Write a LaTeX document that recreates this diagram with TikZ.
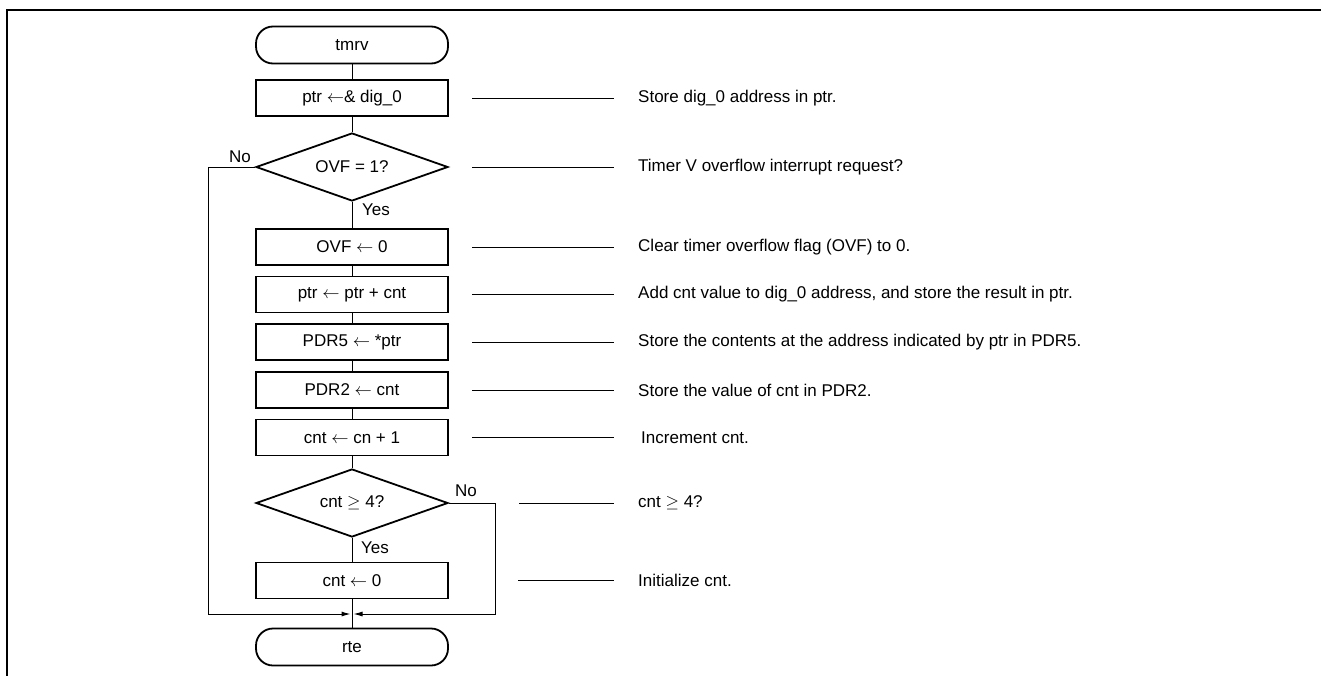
\documentclass[tikz,border=0pt]{standalone}
\usepackage{fontspec}
\setmainfont{Liberation Sans}
\usetikzlibrary{shapes.geometric,arrows.meta}
\begin{document}
\begin{tikzpicture}[x=1pt,y=-1pt,
  every node/.style={font=\fontsize{17}{19}\selectfont},
  box/.style={draw,line width=1.8pt,minimum width=192pt,minimum height=36pt,inner sep=0pt},
  term/.style={box,rounded corners=17pt,minimum height=37pt},
  dec/.style={draw,diamond,line width=1.8pt,minimum width=192pt,minimum height=68pt,inner sep=0pt},
  flow/.style={line width=1pt},
  lead/.style={line width=1pt},
  note/.style={anchor=west,inner sep=0pt},
  lbl/.style={inner sep=0pt},
  arr/.style={flow,-{Latex[length=9pt,width=5pt]},shorten >=1.5pt}
]
\useasboundingbox (0,0) rectangle (1321,675);
\draw[line width=2pt] (7,676) -- (7,10) -- (1322,10);

\node[term] (start) at (352,45) {tmrv};
\node[box] (b1) at (352,98) {ptr $\leftarrow$\& dig\_0};
\node[dec,label={[lbl]center:OVF = 1?}] (d1) at (352,167) {};
\node[box] (b2) at (352,247) {OVF $\leftarrow$ 0};
\node[box] (b3) at (352,294.5) {ptr $\leftarrow$ ptr + cnt};
\node[box] (b4) at (352,342) {PDR5 $\leftarrow$ *ptr};
\node[box] (b5) at (352,390) {PDR2 $\leftarrow$ cnt};
\node[box] (b6) at (352,437.5) {cnt $\leftarrow$ cn + 1};
\node[dec,label={[lbl]center:cnt $\geq$ 4?}] (d2) at (352,503) {};
\node[box] (b7) at (352,580.5) {cnt $\leftarrow$ 0};
\node[term] (stop) at (352,647) {rte};

\coordinate (m) at (352,614);
\coordinate (lc) at (208,614);
\coordinate (rc) at (495,614);

\draw[flow] (start) -- (b1);
\draw[flow] (b1) -- (d1);
\draw[flow] (d1) -- (b2);
\draw[flow] (b2) -- (b3);
\draw[flow] (b3) -- (b4);
\draw[flow] (b4) -- (b5);
\draw[flow] (b5) -- (b6);
\draw[flow] (b6) -- (d2);
\draw[flow] (d2) -- (b7);
\draw[flow] (b7) -- (stop);
\draw[arr] (d1.west) -| (lc) -- (m);
\draw[arr] (d2.east) -| (rc) -- (m);

\node[lbl] (no1) at (240,157) {No};
\node[lbl] (yes1) at (376,210) {Yes};
\node[lbl] (no2) at (466,491) {No};
\node[lbl] (yes2) at (375,548) {Yes};

\node[note] (n1) at (638,98) {Store dig\_0 address in ptr.};
\node[note] (n2) at (638,167) {Timer V overflow interrupt request?};
\node[note] (n3) at (638,247) {Clear timer overflow flag (OVF) to 0.};
\node[note] (n4) at (638,294.5) {Add cnt value to dig\_0 address, and store the result in ptr.};
\node[note] (n5) at (638,342) {Store the contents at the address indicated by ptr in PDR5.};
\node[note] (n6) at (638,390) {Store the value of cnt in PDR2.};
\node[note] (n7) at (641,437.5) {Increment cnt.};
\node[note] (n8) at (638,503) {cnt $\geq$ 4?};
\node[note] (n9) at (638,580.5) {Initialize cnt.};

\draw[lead] (472,98) -- (614,98);
\draw[lead] (472,167) -- (614,167);
\draw[lead] (472,247) -- (614,247);
\draw[lead] (472,294.5) -- (614,294.5);
\draw[lead] (472,342) -- (614,342);
\draw[lead] (472,390) -- (614,390);
\draw[lead] (472,437.5) -- (614,437.5);
\draw[lead] (519,503) -- (614,503);
\draw[lead] (518,580.5) -- (614,580.5);
\end{tikzpicture}
\end{document}
